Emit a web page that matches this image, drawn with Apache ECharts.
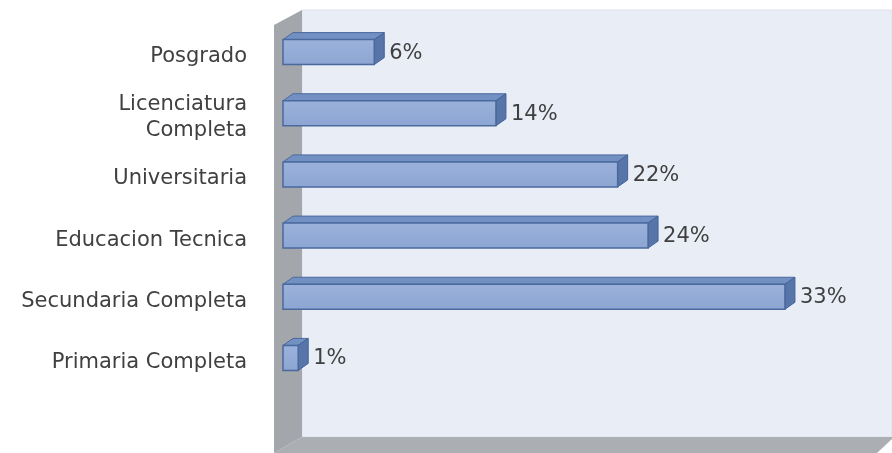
<!DOCTYPE html>
<html>
<head>
<meta charset="utf-8">
<title>Nivel educativo</title>
<script src="https://cdn.jsdelivr.net/npm/echarts@6/dist/echarts.min.js"></script>
<style>
  html, body { margin: 0; padding: 0; background: #ffffff; }
  #chart { width: 892px; height: 453px; }
</style>
</head>
<body>
<div id="chart"></div>
<script>
// Education levels, top to bottom
const categories = [
  'Posgrado',
  'Licenciatura\nCompleta',
  'Universitaria',
  'Educacion Tecnica',
  'Secundaria Completa',
  'Primaria Completa'
];
// Share of respondents per level, in percent
const percentages = [6, 14, 22, 24, 33, 1];

const FONT = '"DejaVu Sans", sans-serif';
const DEPTH_X = 10;
const DEPTH_Y = 7;
const HALF = 12.5;
const LIFT = 4.5; // bars sit slightly above the category line

const chart = echarts.init(document.getElementById('chart'), null, { renderer: 'canvas' });

function renderBar(params, api) {
  const val = api.value(0);
  const cat = api.value(1);
  const start = api.coord([0, cat]);
  const end = api.coord([val, cat]);
  const x0 = start[0], x1 = end[0], c = end[1] - LIFT;
  const top = c - HALF, bot = c + HALF;
  return {
    type: 'group',
    children: [
      {
        type: 'polygon',
        shape: { points: [[x0, top], [x1, top], [x1 + DEPTH_X, top - DEPTH_Y], [x0 + DEPTH_X, top - DEPTH_Y]] },
        style: { fill: '#7390c2', stroke: '#4a6a9e', lineWidth: 1 }
      },
      {
        type: 'polygon',
        shape: { points: [[x1, top], [x1 + DEPTH_X, top - DEPTH_Y], [x1 + DEPTH_X, bot - DEPTH_Y], [x1, bot]] },
        style: { fill: '#5775a8', stroke: '#42639a', lineWidth: 1 }
      },
      {
        type: 'rect',
        shape: { x: x0, y: top, width: x1 - x0, height: bot - top },
        style: {
          fill: new echarts.graphic.LinearGradient(0, 0, 0, 1, [
            { offset: 0, color: '#9bb2dc' },
            { offset: 1, color: '#8ca5d2' }
          ]),
          stroke: '#4a6a9e',
          lineWidth: 1.5
        }
      },
      {
        type: 'text',
        style: {
          text: val + '%',
          x: x1 + DEPTH_X + 5,
          y: c + 1,
          verticalAlign: 'middle',
          align: 'left',
          font: '21px ' + FONT,
          fill: '#404040'
        }
      }
    ]
  };
}

const option = {
  animation: false,
  backgroundColor: '#ffffff',
  grid: { left: 283, right: 31, top: 26, bottom: 60, containLabel: false },
  xAxis: {
    type: 'value',
    min: 0,
    max: 38,
    show: false
  },
  yAxis: {
    type: 'category',
    data: categories,
    inverse: true,
    axisLine: { show: false },
    axisTick: { show: false },
    axisLabel: {
      margin: 36,
      fontFamily: FONT,
      fontSize: 21,
      color: '#404040',
      lineHeight: 26,
      align: 'right'
    }
  },
  graphic: [
    {
      type: 'rect',
      z: -10,
      shape: { x: 302, y: 10, width: 590, height: 427 },
      style: { fill: '#e9edf6', stroke: '#dde2ec', lineWidth: 1 }
    },
    {
      type: 'polygon',
      z: -9,
      shape: { points: [[274, 25], [302, 10], [302, 437], [274, 453]] },
      style: { fill: '#a3a6aa' }
    },
    {
      type: 'polygon',
      z: -9,
      shape: { points: [[274, 453], [302, 437], [892, 437], [892, 439], [877, 453]] },
      style: { fill: '#abaeb2' }
    }
  ],
  series: [
    {
      type: 'custom',
      renderItem: renderBar,
      encode: { x: 0, y: 1 },
      data: percentages.map((v, i) => [v, i]),
      z: 5
    }
  ]
};

chart.setOption(option);
</script>
</body>
</html>
